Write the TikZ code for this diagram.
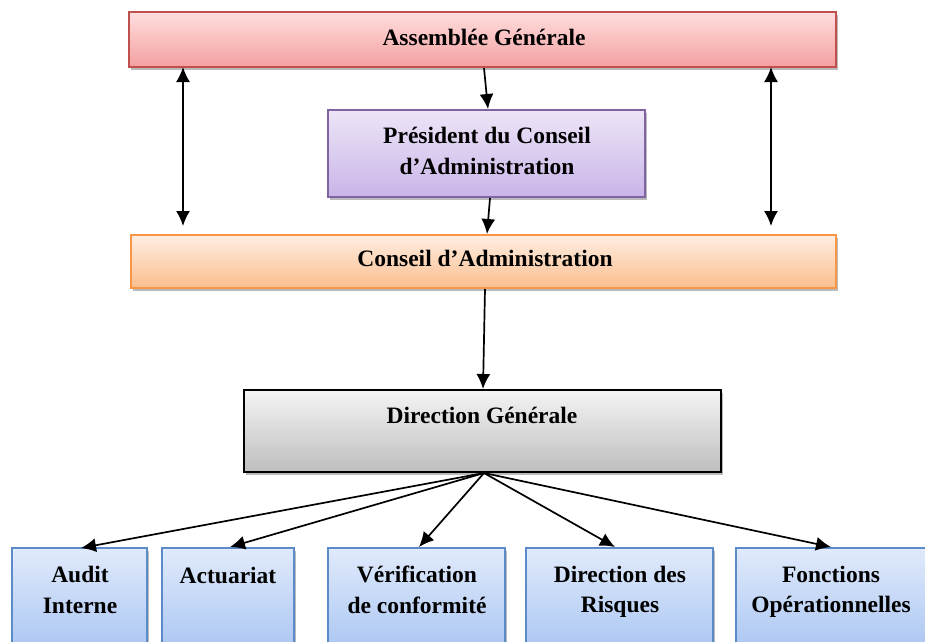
\documentclass[tikz,border=0pt]{standalone}
\usepackage{fontspec}
\setmainfont{Liberation Serif}
\usetikzlibrary{arrows.meta,shadows}
\definecolor{agborder}{HTML}{C0504D}
\definecolor{agtop}{HTML}{FFDEDE}
\definecolor{agbot}{HTML}{F4A0A0}
\definecolor{pborder}{HTML}{8064A2}
\definecolor{ptop}{HTML}{EDE5F7}
\definecolor{pbot}{HTML}{C9B5E8}
\definecolor{caborder}{HTML}{F79646}
\definecolor{catop}{HTML}{FEEEE2}
\definecolor{cabot}{HTML}{FBBE8E}
\definecolor{dgtop}{HTML}{F4F4F4}
\definecolor{dgbot}{HTML}{BEBEBE}
\definecolor{bborder}{HTML}{5B8BC9}
\definecolor{btop}{HTML}{E0EAFB}
\definecolor{bbot}{HTML}{A6C3F2}
\begin{document}
\begin{tikzpicture}[x=1pt,y=-1pt,
  box/.style={rectangle, line width=1.2pt, inner sep=0pt,
    drop shadow={shadow xshift=2pt, shadow yshift=-3pt, opacity=0.45, fill=black!60}},
  agbox/.style={box, draw=agborder, top color=agtop, bottom color=agbot},
  pbox/.style={box, draw=pborder, top color=ptop, bottom color=pbot},
  cabox/.style={box, draw=caborder, top color=catop, bottom color=cabot},
  dgbox/.style={box, draw=black, top color=dgtop, bottom color=dgbot},
  bbox/.style={box, draw=bborder, top color=btop, bottom color=bbot, minimum height=112pt},
  lbl/.style={font=\fontsize{23.5}{30.5}\selectfont\bfseries, align=center, inner sep=0pt},
  arr/.style={line width=1.7pt, -{Latex[length=15pt,width=14pt]}},
  darr/.style={line width=1.7pt, {Latex[length=15pt,width=14pt]}-{Latex[length=15pt,width=14pt]}}
]
\useasboundingbox (0,0) rectangle (925,641);
% boxes
\node[agbox, minimum width=707pt, minimum height=55pt] (ag) at (482.5,39.5) {};
\node[lbl] (agt) at (484,37) {Assemblée Générale};
\node[pbox, minimum width=317pt, minimum height=87pt] (pr) at (486.5,153.5) {};
\node[lbl] (prt) at (487,151) {Président du Conseil\\d’Administration};
\node[cabox, minimum width=705pt, minimum height=53pt] (ca) at (483.5,261.5) {};
\node[lbl] (cat) at (485,258) {Conseil d’Administration};
\node[dgbox, minimum width=477pt, minimum height=82pt] (dg) at (482.5,431) {};
\node[lbl] (dgt) at (482,415) {Direction Générale};
% bottom boxes (top at 548)
\node[bbox, minimum width=135pt] (au) at (79.5,604) {};
\node[lbl] (aut) at (80,590) {Audit\\Interne};
\node[bbox, minimum width=132pt] (ac) at (228,604) {};
\node[lbl] (act) at (228,575) {Actuariat};
\node[bbox, minimum width=177pt] (ve) at (416.5,604) {};
\node[lbl] (vet) at (417,590) {Vérification\\de conformité};
\node[bbox, minimum width=187pt] (ri) at (619.5,604) {};
\node[lbl] (rit) at (620,592) {Direction des\\Risques};
\node[bbox, minimum width=190pt] (fo) at (831,604) {};
\node[lbl] (fot) at (831,592) {Fonctions\\Opérationnelles};
% coordinates
\coordinate (lt) at (183,67);
\coordinate (lb) at (183,226);
\coordinate (rt) at (771,67);
\coordinate (rb) at (771,226);
\coordinate (agout) at (484,68);
\coordinate (prin) at (488,109);
\coordinate (prout) at (490,198);
\coordinate (cain) at (487,234);
\coordinate (caout) at (485,289);
\coordinate (dgin) at (483,389);
\coordinate (dgout) at (484,473);
\coordinate (auin) at (81,548);
\coordinate (acin) at (230,547);
\coordinate (vein) at (419,547);
\coordinate (riin) at (615,547);
\coordinate (foin) at (831,547);
% connectors
\draw[darr] (lt) -- (lb);
\draw[darr] (rt) -- (rb);
\draw[arr] (agout) -- (prin);
\draw[arr] (prout) -- (cain);
\draw[arr] (caout) -- (dgin);
\draw[arr] (dgout) -- (auin);
\draw[arr] (dgout) -- (acin);
\draw[arr] (dgout) -- (vein);
\draw[arr] (dgout) -- (riin);
\draw[arr] (dgout) -- (foin);
\end{tikzpicture}
\end{document}
